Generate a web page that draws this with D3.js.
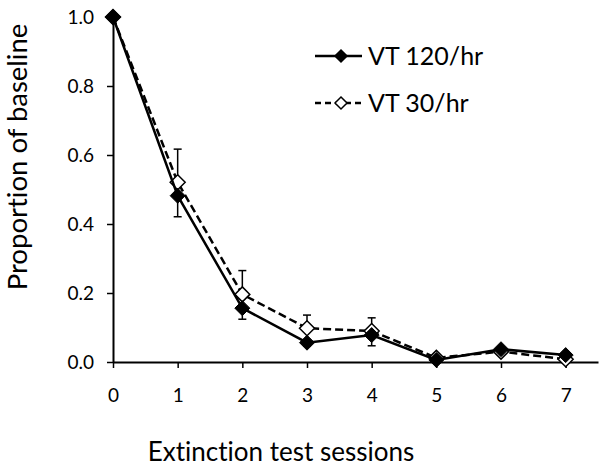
<!DOCTYPE html>
<html><head><meta charset="utf-8">
<script src="https://cdn.jsdelivr.net/npm/d3@7"></script>
<style>body{margin:0;background:#fff}svg{display:block}text{font-variant-ligatures:none;font-feature-settings:"liga" 0}</style>
</head><body>
<script>
const sessions = [0,1,2,3,4,5,6,7];
const vt120 = [1.0, 0.482, 0.156, 0.056, 0.078, 0.006, 0.037, 0.020];
const vt120ErrLow = [0, 0.061, 0.032, 0.010, 0.031, 0.004, 0.012, 0.005];
const vt30 = [1.0, 0.521, 0.196, 0.098, 0.090, 0.012, 0.030, 0.008];
const vt30ErrHigh = [0, 0.096, 0.069, 0.038, 0.038, 0.004, 0.012, 0.004];
const yTicks = [0, 0.2, 0.4, 0.6, 0.8, 1.0];
const seriesNames = ["VT 120/hr", "VT 30/hr"];

const W = 604, H = 467;
const svg = d3.select("body").append("svg").attr("width", W).attr("height", H);
const x = d3.scaleLinear().domain([0, 7.5]).range([113, 598]);
const y = d3.scaleLinear().domain([0, 1]).range([362, 17]);
const font = "Lato, 'Open Sans', sans-serif";

// axes
const xAxis = svg.append("g").attr("transform", `translate(0,${y(0)})`)
  .call(d3.axisBottom(x).tickValues(sessions).tickFormat(d3.format("d")).tickSize(6).tickSizeOuter(0));
const yAxis = svg.append("g").attr("transform", `translate(${x(0)},0)`)
  .call(d3.axisLeft(y).tickValues(yTicks).tickFormat(d3.format(".1f")).tickSize(6).tickSizeOuter(0));
[xAxis, yAxis].forEach(g => {
  g.select(".domain").attr("stroke", "#000").attr("stroke-width", 2);
  g.selectAll(".tick line").attr("stroke", "#000").attr("stroke-width", 1.5);
  g.selectAll("text").attr("fill", "#000").style("font-family", font).style("font-size", "19px");
});
xAxis.selectAll("text").attr("dy", "0").attr("y", 40);
yAxis.selectAll("text").attr("x", -19).attr("dy", "0.35em");

// titles
svg.append("text").attr("x", 281).attr("y", 461).attr("text-anchor", "middle")
  .style("font-family", font).style("font-size", "26px").text("Extinction test sessions");
svg.append("text").attr("transform", "translate(27,157) rotate(-90)").attr("text-anchor", "middle")
  .style("font-family", font).style("font-size", "27.5px").text("Proportion of baseline");

const line = d3.line().x((d,i) => x(sessions[i])).y(d => y(d));
const diamond = (s) => `M0,${-s}L${s},0L0,${s}L${-s},0Z`;

// error bars
function errBars(vals, errs, dir) {
  const g = svg.append("g");
  vals.forEach((v, i) => {
    if (!errs[i]) return;
    const e = v + dir * errs[i];
    g.append("line").attr("x1", x(sessions[i])).attr("x2", x(sessions[i]))
      .attr("y1", y(v)).attr("y2", y(e)).attr("stroke", "#000").attr("stroke-width", 1.5);
    g.append("line").attr("x1", x(sessions[i]) - 4).attr("x2", x(sessions[i]) + 4)
      .attr("y1", y(e)).attr("y2", y(e)).attr("stroke", "#000").attr("stroke-width", 1.5);
  });
}
errBars(vt30, vt30ErrHigh, 1);
errBars(vt120, vt120ErrLow, -1);

// VT 30 dashed
svg.append("path").datum(vt30).attr("d", line).attr("fill", "none")
  .attr("stroke", "#000").attr("stroke-width", 2.5).attr("stroke-dasharray", "8,4");
svg.append("g").selectAll("path").data(vt30).join("path")
  .attr("transform", (d,i) => `translate(${x(sessions[i])},${y(d)})`)
  .attr("d", diamond(7.5)).attr("fill", "#fff").attr("stroke", "#000").attr("stroke-width", 1.5);

// VT 120 solid
svg.append("path").datum(vt120).attr("d", line).attr("fill", "none")
  .attr("stroke", "#000").attr("stroke-width", 2.5);
svg.append("g").selectAll("path").data(vt120).join("path")
  .attr("transform", (d,i) => `translate(${x(sessions[i])},${y(d)})`)
  .attr("d", diamond(7.5)).attr("fill", "#000").attr("stroke", "#000").attr("stroke-width", 1);

// legend
const leg = svg.append("g");
[[56, false], [103, true]].forEach(([ly, open], k) => {
  leg.append("line").attr("x1", 315).attr("x2", 362).attr("y1", ly).attr("y2", ly)
    .attr("stroke", "#000").attr("stroke-width", 2.5).attr("stroke-dasharray", open ? "6,4" : null);
  leg.append("path").attr("transform", `translate(341,${ly})`).attr("d", diamond(6))
    .attr("fill", open ? "#fff" : "#000").attr("stroke", "#000").attr("stroke-width", 1.5);
  leg.append("text").attr("x", 368).attr("y", ly).attr("dy", "0.35em")
    .style("font-family", font).style("font-size", "25px").text(seriesNames[k]);
});
</script>
</body></html>
